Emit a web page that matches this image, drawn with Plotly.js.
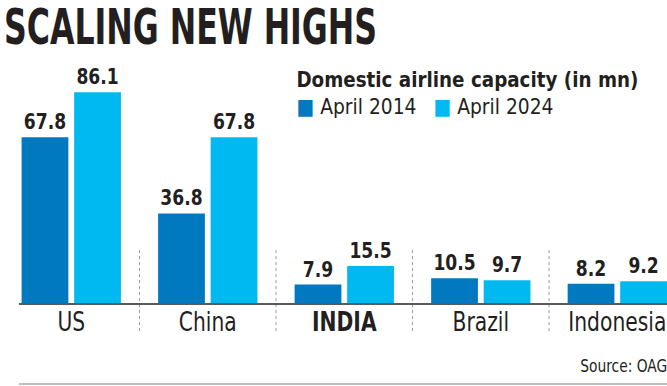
<!DOCTYPE html>
<html>
<head>
<meta charset="utf-8">
<script src="https://cdn.plot.ly/plotly-3.0.1.min.js"></script>
<style>html,body{margin:0;padding:0;background:#fff}</style>
</head>
<body>
<div id="chart" style="width:667px;height:386px"></div>
<script>
const categories = ["US", "China", "INDIA", "Brazil", "Indonesia"];
const tickLabels = ["US", "China", "<b>INDIA</b>", "Brazil", "Indonesia"];
const april2014 = [67.8, 36.8, 7.9, 10.5, 8.2];
const april2024 = [86.1, 67.8, 15.5, 9.7, 9.2];
const seriesNames = ["April 2014", "April 2024"];
const seriesColors = ["#0079c1", "#00b9f1"];
const legendTitle = "Domestic airline capacity (in mn)";
const chartTitle = "SCALING NEW HIGHS";
const sourceText = "Source: OAG";

const FONT = "'DejaVu Sans', sans-serif";
const TXT = "#231f20";

function bar(name, vals, color) {
  return {
    type: "bar", name: name, x: categories, y: vals,
    marker: {color: color, line: {width: 0}},
    text: vals.map(v => v.toFixed(1)),
    textposition: "outside",
    constraintext: "none",
    textfont: {family: FONT, size: 22, color: TXT, weight: 700},
    cliponaxis: false,
    hoverinfo: "skip",
    showlegend: false
  };
}

const data = [
  bar(seriesNames[0], april2014, seriesColors[0]),
  bar(seriesNames[1], april2024, seriesColors[1])
];

const sepShapes = [0.5, 1.5, 2.5, 3.5].map(x => ({
  type: "line", xref: "x", yref: "paper", x0: x, x1: x, y0: 0.221, y1: -0.119,
  line: {color: "#9a9a9a", width: 1, dash: "dot"}, layer: "below"
}));

const layout = {
  width: 667, height: 386,
  margin: {l: 3, r: 0, t: 60, b: 82},
  paper_bgcolor: "#fff", plot_bgcolor: "#fff",
  font: {family: FONT, color: TXT},
  title: {
    text: "<b>" + chartTitle + "</b>",
    x: 0.006, xanchor: "left", xref: "container",
    y: 0.974, yanchor: "top", yref: "container",
    font: {family: FONT, size: 49, color: TXT}
  },
  barmode: "group",
  bargap: 0.23,
  bargroupgap: 0.11,
  showlegend: false,
  xaxis: {
    type: "category",
    range: [-0.5, 4.364],
    tickvals: categories, ticktext: tickLabels,
    tickangle: 0,
    showgrid: false, zeroline: false, showline: false,
    ticks: "", tickfont: {family: FONT, size: 26, color: TXT},
    fixedrange: true
  },
  yaxis: {
    range: [0, 99.2],
    visible: false, showgrid: false, zeroline: false,
    fixedrange: true
  },
  shapes: sepShapes.concat([
    {type: "line", xref: "paper", yref: "paper", x0: 0.024, x1: 1, y0: 0, y1: 0,
     line: {color: "#5a5a5a", width: 2}},
    {type: "line", xref: "paper", yref: "paper", x0: 0.024, x1: 1, y0: -0.328, y1: -0.328,
     line: {color: "#aaaaaa", width: 1.5}}
  ]),
  annotations: [
    {text: "<b>" + legendTitle + "</b>", xref: "paper", yref: "paper", x: 0.699, y: 0.92,
     xanchor: "center", yanchor: "middle", showarrow: false,
     font: {family: FONT, size: 22, color: TXT}},
    {text: "<span style='color:" + seriesColors[0] + "'>■</span> " + seriesNames[0], xref: "paper", yref: "paper", x: 0.532, y: 0.808,
     xanchor: "center", yanchor: "middle", showarrow: false,
     font: {family: FONT, size: 22, color: TXT}},
    {text: "<span style='color:" + seriesColors[1] + "'>■</span> " + seriesNames[1], xref: "paper", yref: "paper", x: 0.739, y: 0.808,
     xanchor: "center", yanchor: "middle", showarrow: false,
     font: {family: FONT, size: 22, color: TXT}},
    {text: sourceText, xref: "paper", yref: "paper", x: 0.935, y: -0.25,
     xanchor: "center", yanchor: "middle", showarrow: false,
     font: {family: FONT, size: 18, color: TXT}}
  ]
};

function squeeze(els, ratio) {
  els.forEach(el => {
    const L = el.getComputedTextLength();
    el.setAttribute("textLength", (L * ratio).toFixed(1));
    el.setAttribute("lengthAdjust", "spacingAndGlyphs");
  });
}
function fitTo(el, width) {
  el.setAttribute("textLength", width);
  el.setAttribute("lengthAdjust", "spacingAndGlyphs");
}

Plotly.newPlot("chart", data, layout, {displayModeBar: false, staticPlot: true}).then(gd => {
  gd.querySelectorAll(".gtitle").forEach(el => fitTo(el, 373));
  squeeze(gd.querySelectorAll(".bartext"), 0.78);
  squeeze(gd.querySelectorAll(".xtick text"), 0.78);
  const ann = gd.querySelectorAll(".annotation-text");
  fitTo(ann[0], 342);
  squeeze([ann[1], ann[2]], 0.85);
  fitTo(ann[3], 87);
});
</script>
</body>
</html>
